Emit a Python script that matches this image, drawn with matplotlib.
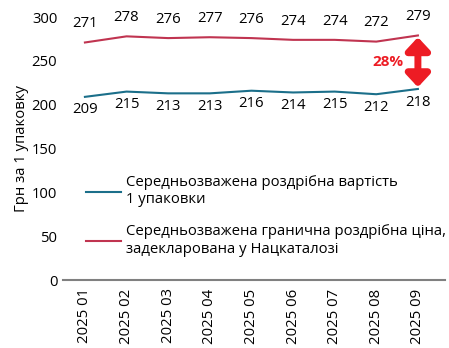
import matplotlib.pyplot as plt

months = ["2025 01", "2025 02", "2025 03", "2025 04", "2025 05",
          "2025 06", "2025 07", "2025 08", "2025 09"]
retail_cost = [209, 215, 213, 213, 216, 214, 215, 212, 218]
max_price = [271, 278, 276, 277, 276, 274, 274, 272, 279]
yticks = [0, 50, 100, 150, 200, 250, 300]

plt.rcParams['font.family'] = ['Open Sans', 'DejaVu Sans']
fs = 10.7

fig = plt.figure(figsize=(4.49, 3.48), dpi=100)
ax = fig.add_axes([0.140, 0.195, 0.851, 0.756])

x = list(range(len(months)))
blue = "#1b6f8a"
red = "#c03450"
ax.plot(x, retail_cost, color=blue, lw=1.5,
        label="Середньозважена роздрібна вартість\n1 упаковки")
ax.plot(x, max_price, color=red, lw=1.5,
        label="Середньозважена гранична роздрібна ціна,\nзадекларована у Нацкаталозі")

for i in x:
    ax.annotate(str(max_price[i]), (i, max_price[i]), xytext=(0, 8),
                textcoords="offset points", ha="center", va="bottom", fontsize=fs)
    ax.annotate(str(retail_cost[i]), (i, retail_cost[i]), xytext=(0, -4),
                textcoords="offset points", ha="center", va="top", fontsize=fs)

# стрілка різниці між рядами
ax.annotate("", xy=(8, retail_cost[-1] + 2), xytext=(8, max_price[-1] - 2),
            arrowprops=dict(arrowstyle="<|-|>,head_length=0.75,head_width=0.7",
                            color="#ed1c24", lw=5, shrinkA=0, shrinkB=0))
ax.text(7.66, (retail_cost[-1] + max_price[-1]) / 2, "28%", color="#ed1c24",
        fontsize=fs + 0.3, fontweight="bold", ha="right", va="center")

ax.set_xlim(-0.53, 8.65)
ax.set_ylim(0, 300)
ax.set_yticks(yticks)
ax.set_xticks(x)
ax.set_xticklabels(months, rotation=90, fontsize=fs)
ax.tick_params(axis="both", length=0, labelsize=fs)
ax.tick_params(axis="y", pad=4)
ax.tick_params(axis="x", pad=6)
for s in ["top", "right", "left"]:
    ax.spines[s].set_visible(False)
ax.spines["bottom"].set_color("#808080")
ax.spines["bottom"].set_linewidth(1.5)
ax.set_ylabel("Грн за 1 упаковку", fontsize=fs, labelpad=2)

ax.legend(loc="upper left", bbox_to_anchor=(0.025, 0.45), frameon=False,
          fontsize=fs, handlelength=2.4, handletextpad=0.3, labelspacing=1.15)

fig.savefig("out.png", dpi=100)
